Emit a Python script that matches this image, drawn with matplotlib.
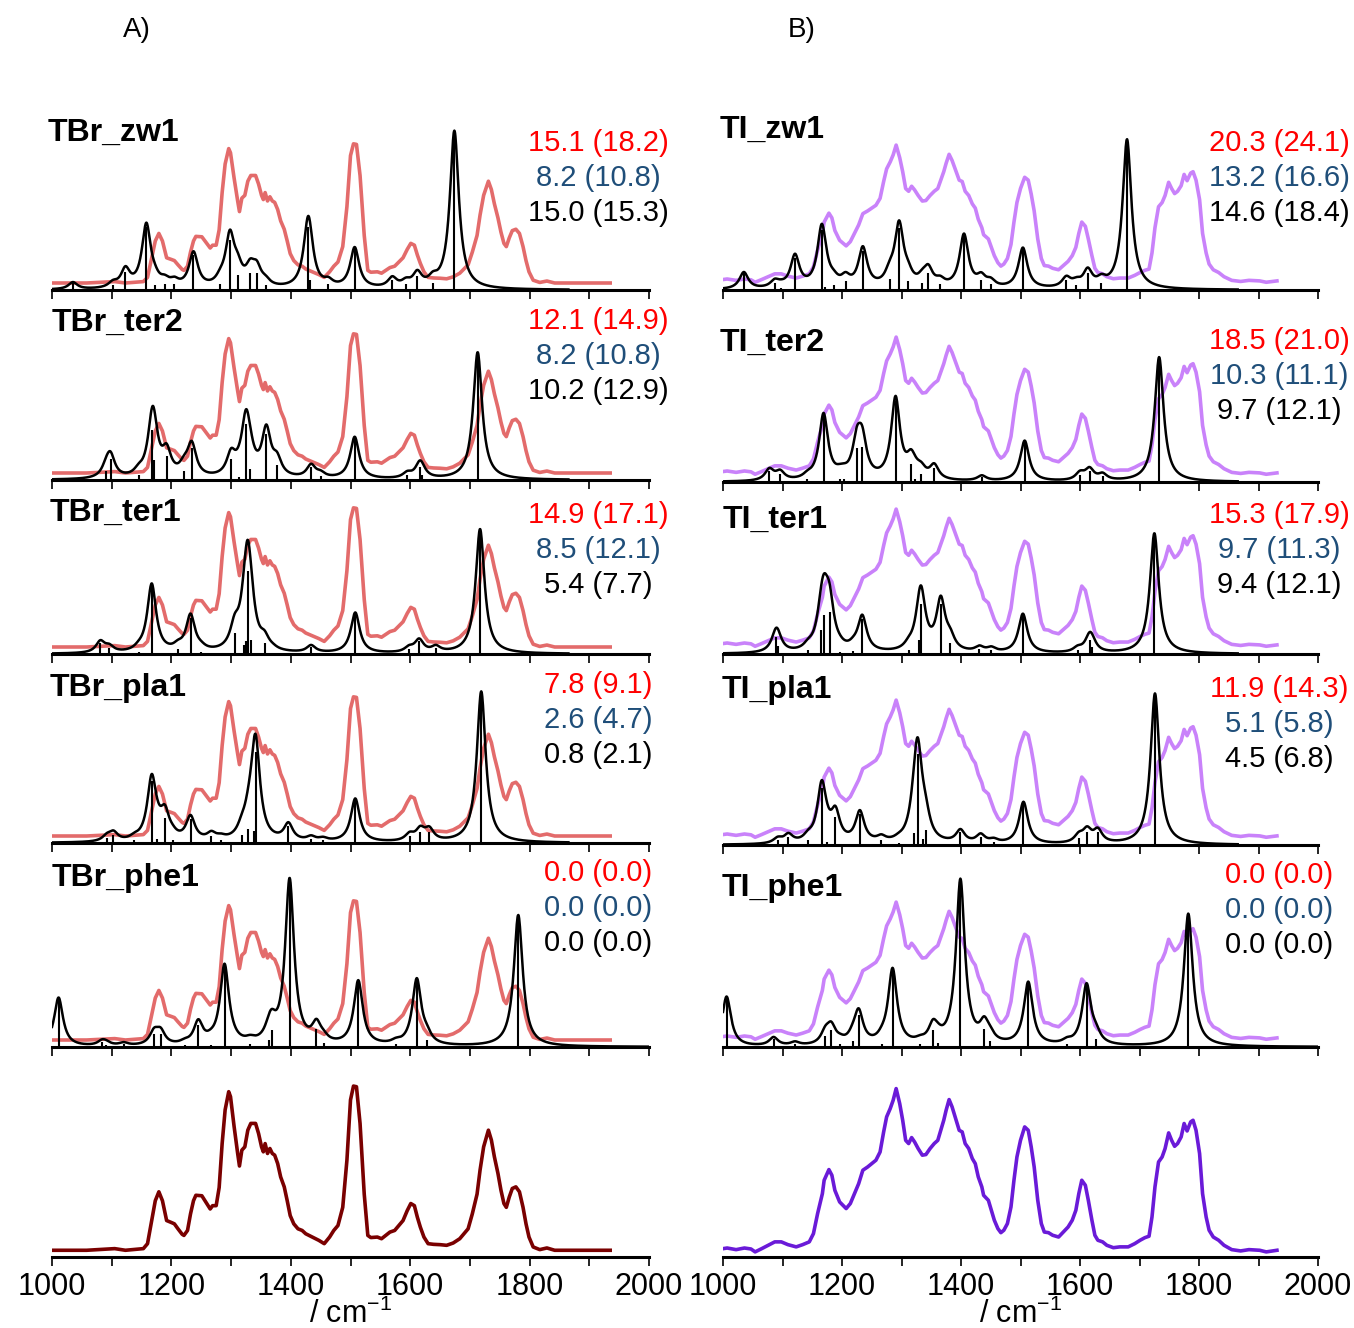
import numpy as np
import matplotlib
matplotlib.use("Agg")
import matplotlib.pyplot as plt

plt.rcParams['font.family'] = ['Liberation Sans', 'DejaVu Sans']
plt.rcParams['mathtext.fontset'] = 'custom'
plt.rcParams['mathtext.rm'] = 'Liberation Sans'

tbr_exp_x = [1000, 1058, 1105, 1123, 1153, 1160, 1167, 1173, 1179, 1185, 1192, 1200, 1205, 1211, 1218,
             1221, 1227, 1232, 1237, 1241, 1251, 1258, 1265, 1269, 1275, 1280, 1285, 1290, 1296, 1299,
             1305, 1311, 1314, 1318, 1323, 1328, 1333, 1341, 1346, 1351, 1354, 1357, 1361, 1365, 1369,
             1373, 1378, 1383, 1389, 1394, 1399, 1405, 1412, 1419, 1425, 1436, 1447, 1456, 1465, 1472,
             1479, 1487, 1494, 1500, 1505, 1510, 1516, 1523, 1529, 1534, 1545, 1552, 1559, 1566, 1574,
             1581, 1588, 1595, 1601, 1607, 1612, 1617, 1623, 1630, 1639, 1650, 1661, 1672, 1683, 1690,
             1697, 1704, 1712, 1717, 1723, 1731, 1736, 1741, 1747, 1752, 1757, 1761, 1766, 1771, 1777,
             1783, 1789, 1794, 1799, 1806, 1817, 1829, 1842, 1857, 1935]
tbr_exp_y = [0.0, 0.0, 0.01, 0.0, 0.01, 0.04, 0.18, 0.30, 0.354, 0.30, 0.18, 0.168, 0.16, 0.13, 0.097,
             0.09, 0.12, 0.22, 0.30, 0.333, 0.33, 0.29, 0.25, 0.27, 0.27, 0.38, 0.646, 0.85, 0.96, 0.93,
             0.75, 0.586, 0.51, 0.606, 0.626, 0.727, 0.768, 0.768, 0.707, 0.626, 0.596, 0.646, 0.586, 0.616, 0.586,
             0.576, 0.525, 0.444, 0.384, 0.30, 0.21, 0.16, 0.13, 0.12, 0.10, 0.08, 0.06, 0.04, 0.08, 0.12,
             0.15, 0.26, 0.545, 0.91, 0.994, 0.99, 0.768, 0.34, 0.09, 0.077, 0.08, 0.07, 0.09, 0.11, 0.12,
             0.15, 0.18, 0.24, 0.283, 0.27, 0.20, 0.14, 0.08, 0.04, 0.036, 0.034, 0.03, 0.044, 0.07, 0.10,
             0.13, 0.22, 0.34, 0.485, 0.626, 0.727, 0.667, 0.566, 0.465, 0.364, 0.283, 0.26, 0.323, 0.374, 0.384,
             0.354, 0.26, 0.16, 0.08, 0.02, 0.004, 0.014, 0.0, 0.0, 0.0]

ti_exp_x = [1000, 1007, 1022, 1036, 1047, 1054, 1065, 1076, 1087, 1098, 1109, 1123, 1134, 1145, 1152,
            1159, 1167, 1170, 1178, 1183, 1188, 1196, 1207, 1214, 1221, 1228, 1235, 1243, 1250, 1257,
            1264, 1270, 1275, 1281, 1286, 1291, 1297, 1302, 1307, 1312, 1317, 1322, 1328, 1335, 1341,
            1348, 1355, 1361, 1366, 1371, 1375, 1380, 1385, 1391, 1397, 1402, 1407, 1413, 1419, 1424,
            1429, 1435, 1438, 1446, 1451, 1456, 1462, 1467, 1472, 1478, 1484, 1489, 1494, 1500, 1507,
            1513, 1518, 1523, 1529, 1535, 1540, 1547, 1554, 1564, 1572, 1580, 1587, 1593, 1598, 1603,
            1609, 1614, 1620, 1625, 1630, 1638, 1645, 1656, 1667, 1681, 1692, 1701, 1709, 1716, 1721,
            1726, 1732, 1738, 1743, 1749, 1754, 1759, 1764, 1770, 1775, 1780, 1786, 1790, 1795, 1801,
            1806, 1812, 1817, 1824, 1833, 1842, 1855, 1870, 1884, 1902, 1913, 1931]
ti_exp_y = [0.01, 0.014, 0.004, 0.014, 0.008, -0.01, 0.01, 0.031, 0.052, 0.052, 0.035, 0.021, 0.035, 0.052, 0.103,
            0.227, 0.35, 0.433, 0.499, 0.464, 0.371, 0.299, 0.258, 0.289, 0.35, 0.412, 0.495, 0.515, 0.536, 0.557,
            0.608, 0.732, 0.825, 0.876, 0.928, 1.0, 0.907, 0.804, 0.68, 0.66, 0.697, 0.67, 0.629, 0.588, 0.592,
            0.629, 0.66, 0.68, 0.742, 0.804, 0.866, 0.932, 0.887, 0.814, 0.742, 0.732, 0.66, 0.629, 0.567, 0.536,
            0.454, 0.392, 0.34, 0.309, 0.247, 0.186, 0.134, 0.109, 0.124, 0.165, 0.268, 0.433, 0.577, 0.68, 0.763,
            0.742, 0.639, 0.515, 0.309, 0.165, 0.113, 0.109, 0.093, 0.082, 0.113, 0.144, 0.186, 0.247, 0.35, 0.433,
            0.402, 0.309, 0.186, 0.093, 0.062, 0.052, 0.031, 0.016, 0.021, 0.021, 0.041, 0.062, 0.078, 0.087, 0.206,
            0.392, 0.546, 0.577, 0.629, 0.726, 0.68, 0.643, 0.66, 0.701, 0.784, 0.738, 0.794, 0.804, 0.742, 0.598,
            0.35, 0.206, 0.124, 0.082, 0.062, 0.031, 0.004, -0.004, 0.004, 0.0, -0.01, 0.0]

# computed stick spectra: positions / cm-1 and intensities
tbr_zw1_pos = [1035, 1102, 1123, 1158, 1172, 1189, 1205, 1237, 1282, 1298, 1311, 1332, 1343, 1358,
               1429, 1432, 1463, 1507, 1570, 1593, 1612, 1638, 1674]
tbr_zw1_int = [0.05, 0.035, 0.13, 0.45, 0.035, 0.04, 0.04, 0.25, 0.04, 0.36, 0.11, 0.12, 0.12, 0.035,
               0.45, 0.07, 0.04, 0.29, 0.07, 0.04, 0.10, 0.05, 1.13]
tbr_ter2_pos = [1091, 1098, 1145, 1168, 1171, 1192, 1221, 1234, 1300, 1314, 1325, 1332, 1359, 1377,
                1434, 1450, 1507, 1595, 1616, 1619, 1713]
tbr_ter2_int = [0.064, 0.15, 0.036, 0.36, 0.14, 0.17, 0.064, 0.23, 0.15, 0.02, 0.40, 0.076, 0.33, 0.11,
                0.09, 0.03, 0.30, 0.036, 0.09, 0.036, 0.91]
tbr_ter1_pos = [1081, 1096, 1145, 1167, 1211, 1232, 1250, 1306, 1321, 1325, 1328, 1334, 1356, 1370,
                1434, 1508, 1598, 1615, 1643, 1717]
tbr_ter1_int = [0.08, 0.04, 0.017, 0.49, 0.033, 0.26, 0.017, 0.15, 0.064, 0.09, 0.59, 0.10, 0.076, 0.01,
                0.05, 0.29, 0.033, 0.09, 0.04, 0.89]
tbr_pla1_pos = [1092, 1103, 1138, 1167, 1176, 1189, 1202, 1232, 1267, 1283, 1318, 1329, 1338, 1341,
                1396, 1434, 1454, 1508, 1599, 1617, 1632, 1719]
tbr_pla1_int = [0.036, 0.06, 0.02, 0.44, 0.03, 0.18, 0.024, 0.17, 0.048, 0.02, 0.06, 0.10, 0.083, 0.65,
                0.12, 0.03, 0.02, 0.31, 0.048, 0.08, 0.08, 1.08]
tbr_phe1_pos = [1011, 1084, 1091, 1120, 1171, 1182, 1222, 1245, 1266, 1289, 1303, 1332, 1363, 1368,
                1398, 1443, 1455, 1513, 1576, 1611, 1628, 1781]
tbr_phe1_int = [0.35, 0.033, 0.017, 0.02, 0.09, 0.09, 0.017, 0.16, 0.017, 0.57, 0.005, 0.024, 0.05, 0.12,
                1.18, 0.13, 0.03, 0.46, 0.02, 0.47, 0.05, 0.94]

ti_zw1_pos = [1035, 1087, 1098, 1121, 1166, 1172, 1186, 1206, 1235, 1280, 1296, 1311, 1335, 1345,
              1365, 1405, 1434, 1450, 1504, 1577, 1594, 1613, 1636, 1679]
ti_zw1_int = [0.12, 0.048, 0.012, 0.23, 0.43, 0.02, 0.036, 0.064, 0.28, 0.08, 0.44, 0.064, 0.048, 0.12,
              0.043, 0.38, 0.07, 0.043, 0.29, 0.07, 0.036, 0.12, 0.048, 1.07]
ti_ter2_pos = [1078, 1096, 1142, 1169, 1196, 1203, 1225, 1234, 1290, 1316, 1323, 1333, 1355, 1435,
               1507, 1600, 1616, 1638, 1733]
ti_ter2_int = [0.08, 0.06, 0.024, 0.47, 0.024, 0.024, 0.24, 0.25, 0.58, 0.13, 0.024, 0.06, 0.10, 0.036,
               0.29, 0.052, 0.08, 0.043, 0.89]
ti_ter1_pos = [1089, 1092, 1143, 1165, 1170, 1179, 1196, 1219, 1234, 1312, 1330, 1333, 1366, 1382,
               1431, 1451, 1504, 1596, 1616, 1620, 1725]
ti_ter1_int = [0.12, 0.06, 0.03, 0.17, 0.28, 0.30, 0.012, 0.024, 0.25, 0.03, 0.10, 0.36, 0.36, 0.08,
               0.036, 0.03, 0.28, 0.03, 0.10, 0.05, 0.86]
ti_pla1_pos = [1092, 1110, 1143, 1166, 1175, 1189, 1230, 1266, 1295, 1321, 1327, 1336, 1341, 1399,
               1433, 1455, 1505, 1598, 1612, 1630, 1726]
ti_pla1_int = [0.036, 0.06, 0.036, 0.41, 0.024, 0.2, 0.22, 0.036, 0.012, 0.083, 0.65, 0.043, 0.107, 0.09,
               0.06, 0.024, 0.3, 0.052, 0.09, 0.09, 1.08]
ti_phe1_pos = [1006, 1085, 1121, 1172, 1182, 1197, 1218, 1228, 1267, 1285, 1331, 1353, 1361, 1399,
               1439, 1449, 1513, 1578, 1611, 1627, 1782]
ti_phe1_int = [0.357, 0.06, 0.024, 0.08, 0.12, 0.019, 0.04, 0.23, 0.024, 0.54, 0.019, 0.12, 0.029, 1.18,
               0.13, 0.043, 0.45, 0.024, 0.43, 0.06, 0.95]

tbr_names = ["TBr_zw1", "TBr_ter2", "TBr_ter1", "TBr_pla1", "TBr_phe1"]
ti_names = ["TI_zw1", "TI_ter2", "TI_ter1", "TI_pla1", "TI_phe1"]
tbr_scores = [["15.1 (18.2)", "8.2 (10.8)", "15.0 (15.3)"],
              ["12.1 (14.9)", "8.2 (10.8)", "10.2 (12.9)"],
              ["14.9 (17.1)", "8.5 (12.1)", "5.4 (7.7)"],
              ["7.8 (9.1)", "2.6 (4.7)", "0.8 (2.1)"],
              ["0.0 (0.0)", "0.0 (0.0)", "0.0 (0.0)"]]
ti_scores = [["20.3 (24.1)", "13.2 (16.6)", "14.6 (18.4)"],
             ["18.5 (21.0)", "10.3 (11.1)", "9.7 (12.1)"],
             ["15.3 (17.9)", "9.7 (11.3)", "9.4 (12.1)"],
             ["11.9 (14.3)", "5.1 (5.8)", "4.5 (6.8)"],
             ["0.0 (0.0)", "0.0 (0.0)", "0.0 (0.0)"]]

tbr_sticks = [(tbr_zw1_pos, tbr_zw1_int), (tbr_ter2_pos, tbr_ter2_int), (tbr_ter1_pos, tbr_ter1_int),
              (tbr_pla1_pos, tbr_pla1_int), (tbr_phe1_pos, tbr_phe1_int)]
ti_sticks = [(ti_zw1_pos, ti_zw1_int), (ti_ter2_pos, ti_ter2_int), (ti_ter1_pos, ti_ter1_int),
             (ti_pla1_pos, ti_pla1_int), (ti_phe1_pos, ti_phe1_int)]

score_colors = ["#FF0000", "#1F4E79", "black"]

W, H = 1354, 1328
fig = plt.figure(figsize=(W / 100, H / 100), dpi=100)

UNIT = 140.0   # pixels per intensity unit
AX_H = 190.0   # axes height in pixels


def fx(px):
    return px / W


def fy(py):
    return 1 - py / H


def broaden(pos, hts, grid, hwhm=9.0):
    pos = np.asarray(pos, float)[:, None]
    hts = np.asarray(hts, float)[:, None]
    return (hts / (1 + ((grid[None, :] - pos) / hwhm) ** 2)).sum(axis=0)


def make_axes(left, right, base):
    ax = fig.add_axes([fx(left), fy(base), fx(right - left), AX_H / H])
    ax.set_xlim(1000, 2000)
    ax.set_ylim(0, AX_H / UNIT)
    ax.patch.set_visible(False)
    for s in ["top", "left", "right"]:
        ax.spines[s].set_visible(False)
    ax.spines["bottom"].set_linewidth(2.2)
    ax.set_yticks([])
    ticks = list(range(1000, 2001, 100))
    ax.set_xticks(ticks)
    ax.set_xticklabels([str(t) if t % 200 == 0 else "" for t in ticks])
    ax.tick_params(axis="x", direction="out", length=6.5, width=1.2, labelsize=22, pad=4)
    return ax


columns = [
    dict(left=52, right=649, bases=[290, 480, 654, 843, 1047, 1257], exp_x=tbr_exp_x, exp_y=tbr_exp_y,
         over="#E36B6B", bottom_col="#7A0000", off=0.05, sc=1.0, bsc=1.18,
         names=tbr_names, scores=tbr_scores, sticks=tbr_sticks,
         name_pos=[(48, 133), (52, 323), (50, 513), (50, 688), (52, 878)],
         score_x=598, score_y=[143, 321, 515, 685, 873], title="A)", title_x=137),
    dict(left=723, right=1318, bases=[290, 482, 654, 845, 1047, 1257], exp_x=ti_exp_x, exp_y=ti_exp_y,
         over="#C982FA", bottom_col="#6A1AD8", off=0.065, sc=0.97, bsc=1.155,
         names=ti_names, scores=ti_scores, sticks=ti_sticks,
         name_pos=[(720, 130), (720, 343), (723, 520), (722, 690), (722, 888)],
         score_x=1279, score_y=[143, 341, 515, 689, 875], title="B)", title_x=802),
]

for col in columns:
    ex = np.array(col["exp_x"], float)
    ey = np.array(col["exp_y"], float)
    for i in range(5):
        ax = make_axes(col["left"], col["right"], col["bases"][i])
        ax.tick_params(labelbottom=False)
        ax.plot(ex, col["off"] + col["sc"] * ey, color=col["over"], lw=2.6, zorder=1)
        pos, hts = col["sticks"][i]
        xmax = 2000 if i == 4 else 1865
        grid = np.linspace(1000, xmax, 1500)
        ax.plot(grid, broaden(pos, hts, grid), color="black", lw=1.8, zorder=2)
        ax.vlines(pos, 0, hts, color="black", lw=1.5, zorder=3)
        nx, ny = col["name_pos"][i]
        fig.text(fx(nx), fy(ny), col["names"][i], fontsize=23, fontweight="bold",
                 ha="left", va="center")
        for k in range(3):
            fig.text(fx(col["score_x"]), fy(col["score_y"][i] + 35 * k), col["scores"][i][k],
                     fontsize=21, color=score_colors[k], ha="center", va="center")
    ax = make_axes(col["left"], col["right"], col["bases"][5])
    ax.plot(ex, 0.048 + col["bsc"] * ey, color=col["bottom_col"], lw=2.6)
    cx = (col["left"] + col["right"]) / 2
    fig.text(fx(cx), fy(1314), "/ cm$^{-1}$", fontsize=22, ha="center", va="center")
    fig.text(fx(col["title_x"]), fy(30), col["title"], fontsize=20, ha="center", va="center")

fig.savefig("out.png", dpi=100)
